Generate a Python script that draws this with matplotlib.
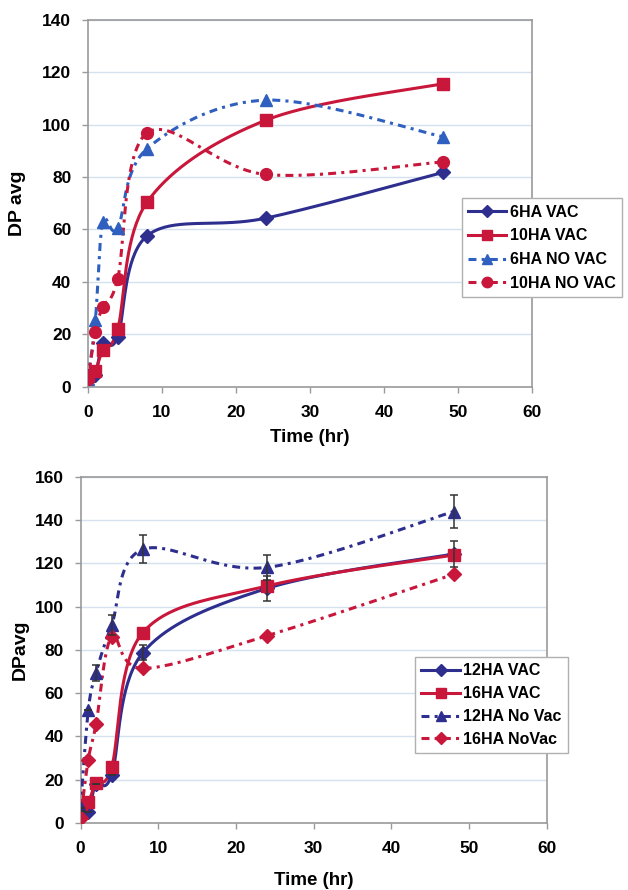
import numpy as np
import matplotlib
matplotlib.use('Agg')
import matplotlib.pyplot as plt
from matplotlib.lines import Line2D

# ========== Data ==========
time_top = [0, 1, 2, 4, 8, 24, 48]
ha6_vac = [4, 4.5, 16.5, 18.8, 57.6, 64.3, 81.8]
ha10_vac = [4, 6, 13.9, 21.8, 70.5, 101.7, 115.7]
ha6_novac = [3, 25.4, 62.7, 60.4, 90.9, 109.4, 95.4]
ha10_novac = [3, 20.7, 30.5, 41.0, 96.9, 81.0, 85.8]

time_bot = [0, 1, 2, 4, 8, 24, 48]
ha12_vac = [5.5, 5.1, 18.2, 22.1, 78.6, 108.4, 124.3]
ha16_vac = [8.2, 9.5, 18.5, 25.8, 87.9, 109.5, 123.8]
ha12_novac = [7, 52.1, 69.4, 91.4, 126.4, 118.1, 143.9]
ha16_novac = [2.2, 29.3, 45.7, 86.0, 71.4, 86.5, 114.9]
ha12_vac_err = [0, 0, 0, 0, 3.5, 5.9, 6.1]
ha12_novac_err = [0, 0, 3.6, 4.6, 6.5, 5.7, 7.5]

NAVY = '#2E2E8F'
RED = '#C8173A'
BLUE = '#2F5FBF'
GRID = '#D5E1EE'
AXIS = '#9A9A9A'
DASH = (2.6, 1.7, 1.0, 1.7)

plt.rcParams.update({
    'font.family': ['Liberation Sans', 'DejaVu Sans'],
    'font.weight': 'bold',
    'axes.labelweight': 'bold',
})


def smooth(x, y, n=40):
    # Excel-style smoothed line (Catmull-Rom through the points)
    pts = np.column_stack([x, y]).astype(float)
    P = np.vstack([pts[0], pts, pts[-1]])
    t = np.linspace(0, 1, n)[:, None]
    out = []
    for i in range(1, len(P) - 2):
        p0, p1, p2, p3 = P[i - 1], P[i], P[i + 1], P[i + 2]
        c1 = p1 + (p2 - p0) / 6
        c2 = p2 - (p3 - p1) / 6
        seg = (1 - t) ** 3 * p1 + 3 * (1 - t) ** 2 * t * c1 + 3 * (1 - t) * t ** 2 * c2 + t ** 3 * p2
        out.append(seg)
    s = np.vstack(out)
    return s[:, 0], s[:, 1]


def draw_series(ax, x, y, color, marker, ms, dashed, label):
    sx, sy = smooth(x, y)
    ls = (0, DASH) if dashed else '-'
    ax.plot(sx, sy, color=color, lw=2.2, linestyle=ls, zorder=3)
    ax.plot(x, y, linestyle='none', marker=marker, ms=ms, color=color,
            markeredgecolor=color, zorder=4)
    return Line2D([], [], color=color, lw=2.2, linestyle=ls, marker=marker,
                  ms=ms - 1, markeredgecolor=color, label=label)


def style_axes(ax, ymax, ystep, ylabel, ylx, xly):
    ax.set_xlim(0, 60)
    ax.set_ylim(0, ymax)
    ax.set_xticks(range(0, 61, 10))
    ax.set_yticks(range(0, ymax + 1, ystep))
    ax.grid(axis='y', color=GRID, lw=1.0, zorder=0)
    ax.set_axisbelow(True)
    for sp in ax.spines.values():
        sp.set_color(AXIS)
        sp.set_linewidth(1.2)
    ax.tick_params(axis='both', colors=AXIS, labelcolor='black', length=4,
                   width=1.0, labelsize=12.5)
    ax.tick_params(axis='x', pad=9)
    ax.tick_params(axis='y', pad=8)
    ax.set_xlabel('Time (hr)', fontsize=13.5)
    ax.set_ylabel(ylabel, fontsize=14)
    ax.xaxis.label.set_va('center')
    ax.yaxis.label.set_va('center')
    ax.xaxis.set_label_coords(0.5, xly)
    ax.yaxis.set_label_coords(ylx, 0.5)


fig = plt.figure(figsize=(6.28, 8.90), dpi=100)

# ---------- top chart ----------
ax1 = fig.add_axes([0.1401, 0.5657, 0.7070, 0.4118])
h = []
h.append(draw_series(ax1, time_top, ha6_vac, NAVY, 'D', 7, False, '6HA VAC'))
h.append(draw_series(ax1, time_top, ha10_vac, RED, 's', 8, False, '10HA VAC'))
h.append(draw_series(ax1, time_top, ha6_novac, BLUE, '^', 8.5, True, '6HA NO VAC'))
h.append(draw_series(ax1, time_top, ha10_novac, RED, 'o', 8.5, True, '10HA NO VAC'))
style_axes(ax1, 140, 20, 'DP avg', -0.158, -0.138)
fig.legend(handles=h, loc='upper left', bbox_to_anchor=(0.7352, 0.7772),
           borderaxespad=0, fontsize=11.5, handlelength=2.4, labelspacing=0.55,
           handletextpad=0.2, borderpad=0.4, fancybox=False, framealpha=1,
           edgecolor='#B0B0B0')

# ---------- bottom chart ----------
ax2 = fig.add_axes([0.1282, 0.0753, 0.7428, 0.3891])
ax2.errorbar(time_bot, ha12_vac, yerr=ha12_vac_err, fmt='none', ecolor='#333333',
             elinewidth=1.1, capsize=3, capthick=1.1, zorder=5)
ax2.errorbar(time_bot, ha12_novac, yerr=ha12_novac_err, fmt='none', ecolor='#333333',
             elinewidth=1.1, capsize=3, capthick=1.1, zorder=5)
h = []
h.append(draw_series(ax2, time_bot, ha12_vac, NAVY, 'D', 7, False, '12HA VAC'))
h.append(draw_series(ax2, time_bot, ha16_vac, RED, 's', 8, False, '16HA VAC'))
h.append(draw_series(ax2, time_bot, ha12_novac, NAVY, '^', 8.5, True, '12HA No Vac'))
h.append(draw_series(ax2, time_bot, ha16_novac, RED, 'D', 7, True, '16HA NoVac'))
style_axes(ax2, 160, 20, 'DPavg', -0.13, -0.165)
fig.legend(handles=h, loc='upper left', bbox_to_anchor=(0.6608, 0.2621),
           borderaxespad=0, fontsize=11.5, handlelength=2.4, labelspacing=0.5,
           handletextpad=0.2, borderpad=0.4, fancybox=False, framealpha=1,
           edgecolor='#B0B0B0')

fig.savefig('out.png', dpi=100)
